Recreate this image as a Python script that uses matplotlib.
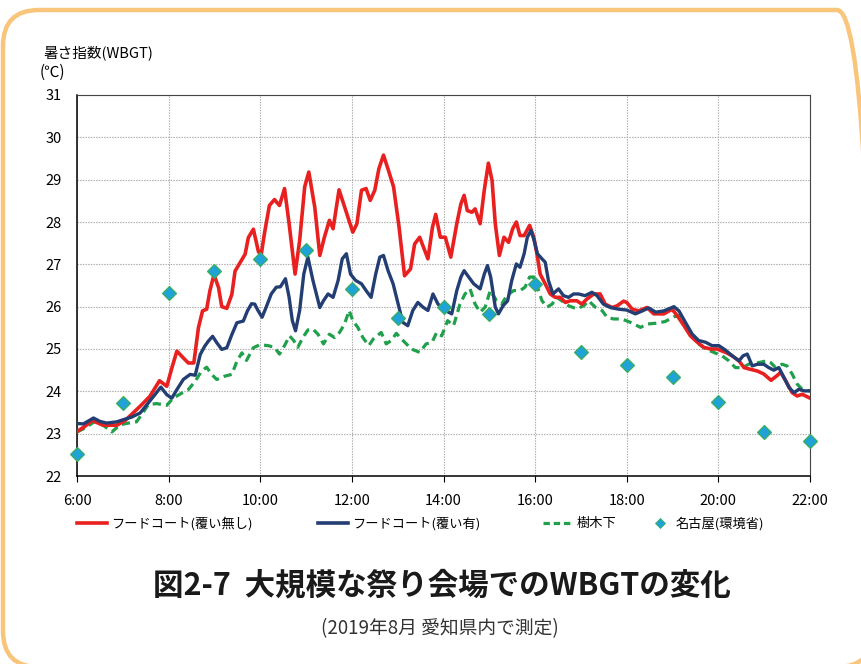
import matplotlib
matplotlib.use("Agg")
import matplotlib.pyplot as plt
from matplotlib.patches import FancyBboxPatch
from matplotlib.lines import Line2D

plt.rcParams['font.family'] = ['Noto Sans CJK JP', 'DejaVu Sans']

# hours (decimal) and WBGT values
red_t = [6.00, 6.17, 6.33, 6.57, 6.87, 7.05, 7.38, 7.59, 7.80, 7.96, 8.07, 8.18, 8.32, 8.43, 8.55,
         8.65, 8.74, 8.83, 8.90, 8.99, 9.09, 9.16, 9.27, 9.38, 9.45, 9.56, 9.67, 9.74, 9.85, 9.96,
         10.02, 10.09, 10.20, 10.31, 10.42, 10.53, 10.63, 10.76, 10.86, 10.97, 11.06, 11.19, 11.30,
         11.40, 11.51, 11.59, 11.72, 11.88, 12.02, 12.11, 12.21, 12.31, 12.40, 12.50, 12.59, 12.69,
         12.81, 12.91, 13.03, 13.15, 13.28, 13.37, 13.48, 13.66, 13.76, 13.83, 13.93, 14.04, 14.16,
         14.29, 14.38, 14.45, 14.52, 14.62, 14.69, 14.80, 14.89, 14.98, 15.06, 15.13, 15.22, 15.32,
         15.42, 15.51, 15.59, 15.67, 15.76, 15.88, 15.97, 16.04, 16.11, 16.22, 16.33, 16.44, 16.55,
         16.66, 16.77, 16.91, 17.02, 17.13, 17.28, 17.42, 17.53, 17.68, 17.79, 17.93, 18.00, 18.12,
         18.26, 18.44, 18.59, 18.81, 18.99, 19.10, 19.25, 19.39, 19.54, 19.68, 19.83, 19.97, 20.16,
         20.30, 20.45, 20.56, 20.70, 20.85, 20.99, 21.15, 21.28, 21.36, 21.47, 21.61, 21.72, 21.83,
         22.00]
red_v = [23.05, 23.17, 23.31, 23.20, 23.20, 23.31, 23.65, 23.88, 24.25, 24.12, 24.55, 24.95, 24.79,
         24.67, 24.67, 25.50, 25.90, 25.94, 26.37, 26.76, 26.45, 26.00, 25.96, 26.29, 26.84, 27.04,
         27.24, 27.63, 27.83, 27.30, 27.22, 27.72, 28.39, 28.53, 28.39, 28.79, 27.96, 26.77, 27.56,
         28.83, 29.18, 28.35, 27.21, 27.64, 28.04, 27.84, 28.76, 28.23, 27.76, 27.96, 28.75, 28.79,
         28.51, 28.75, 29.26, 29.58, 29.18, 28.83, 27.88, 26.73, 26.89, 27.48, 27.64, 27.13, 27.88,
         28.18, 27.64, 27.64, 27.17, 27.96, 28.43, 28.63, 28.27, 28.23, 28.31, 27.96, 28.75, 29.39,
         28.98, 27.96, 27.21, 27.64, 27.52, 27.84, 28.00, 27.68, 27.68, 27.92, 27.64, 27.25, 26.77,
         26.54, 26.30, 26.22, 26.22, 26.10, 26.14, 26.14, 26.06, 26.18, 26.30, 26.30, 26.06, 25.98,
         26.02, 26.13, 26.10, 25.94, 25.90, 25.98, 25.83, 25.83, 25.94, 25.79, 25.55, 25.31, 25.16,
         25.04, 25.00, 25.00, 24.92, 24.84, 24.72, 24.56, 24.52, 24.48, 24.41, 24.26, 24.37, 24.45,
         24.25, 23.97, 23.89, 23.93, 23.84]

blue_t = [6.00, 6.14, 6.36, 6.50, 6.65, 6.87, 7.01, 7.19, 7.38, 7.56, 7.70, 7.83, 7.96, 8.07, 8.18,
          8.32, 8.47, 8.58, 8.69, 8.79, 8.87, 8.96, 9.05, 9.16, 9.27, 9.38, 9.49, 9.63, 9.72, 9.81,
          9.88, 9.95, 10.04, 10.13, 10.24, 10.35, 10.44, 10.55, 10.63, 10.70, 10.77, 10.86, 10.95,
          11.04, 11.15, 11.30, 11.38, 11.48, 11.59, 11.70, 11.79, 11.88, 11.97, 12.08, 12.21, 12.31,
          12.42, 12.52, 12.61, 12.69, 12.79, 12.90, 13.01, 13.11, 13.22, 13.33, 13.44, 13.55, 13.66,
          13.77, 13.88, 14.04, 14.18, 14.29, 14.38, 14.45, 14.55, 14.66, 14.80, 14.89, 14.96, 15.03,
          15.13, 15.20, 15.30, 15.40, 15.49, 15.59, 15.67, 15.76, 15.83, 15.91, 15.98, 16.05, 16.15,
          16.22, 16.29, 16.39, 16.51, 16.62, 16.73, 16.84, 16.95, 17.09, 17.24, 17.35, 17.49, 17.64,
          17.83, 18.00, 18.19, 18.34, 18.48, 18.63, 18.81, 19.03, 19.14, 19.28, 19.43, 19.57, 19.72,
          19.86, 20.01, 20.16, 20.30, 20.45, 20.54, 20.63, 20.74, 20.85, 20.99, 21.10, 21.21, 21.32,
          21.43, 21.54, 21.65, 21.76, 21.87, 22.00]
blue_v = [23.24, 23.23, 23.37, 23.29, 23.25, 23.28, 23.33, 23.39, 23.49, 23.73, 23.92, 24.10, 23.92,
          23.84, 24.04, 24.28, 24.40, 24.38, 24.87, 25.07, 25.19, 25.30, 25.15, 24.99, 25.03, 25.34,
          25.62, 25.66, 25.90, 26.07, 26.06, 25.91, 25.75, 25.99, 26.30, 26.46, 26.47, 26.66, 26.22,
          25.67, 25.43, 25.91, 26.77, 27.17, 26.62, 25.98, 26.14, 26.30, 26.22, 26.62, 27.13, 27.25,
          26.77, 26.62, 26.54, 26.38, 26.22, 26.77, 27.17, 27.21, 26.85, 26.54, 26.06, 25.63, 25.55,
          25.91, 26.10, 25.99, 25.91, 26.30, 26.06, 25.91, 25.83, 26.38, 26.70, 26.85, 26.70, 26.54,
          26.42, 26.77, 26.97, 26.70, 25.99, 25.83, 26.02, 26.14, 26.62, 27.01, 26.93, 27.25, 27.64,
          27.80, 27.56, 27.25, 27.13, 27.05, 26.62, 26.30, 26.42, 26.26, 26.22, 26.30, 26.30, 26.26,
          26.34, 26.26, 26.06, 25.98, 25.94, 25.92, 25.83, 25.90, 25.97, 25.87, 25.90, 26.00, 25.90,
          25.63, 25.35, 25.20, 25.16, 25.08, 25.08, 24.97, 24.84, 24.72, 24.84, 24.88, 24.60, 24.64,
          24.64, 24.56, 24.50, 24.56, 24.33, 24.09, 23.97, 24.05, 24.01, 24.01]

green_t = [6.00, 6.17, 6.39, 6.57, 6.76, 6.94, 7.12, 7.30, 7.41, 7.56, 7.74, 7.96, 8.10, 8.29, 8.43,
           8.58, 8.72, 8.83, 8.94, 9.05, 9.23, 9.38, 9.49, 9.60, 9.70, 9.85, 9.99, 10.17, 10.31,
           10.42, 10.53, 10.64, 10.73, 10.82, 10.93, 11.04, 11.15, 11.26, 11.38, 11.51, 11.62, 11.73,
           11.84, 11.94, 12.02, 12.13, 12.24, 12.37, 12.47, 12.64, 12.75, 12.86, 12.97, 13.08, 13.19,
           13.30, 13.48, 13.62, 13.75, 13.85, 13.96, 14.09, 14.22, 14.36, 14.47, 14.58, 14.69, 14.80,
           14.91, 15.02, 15.16, 15.27, 15.38, 15.53, 15.67, 15.78, 15.88, 15.97, 16.05, 16.15, 16.26,
           16.37, 16.47, 16.58, 16.73, 16.91, 17.06, 17.17, 17.31, 17.46, 17.57, 17.71, 17.89, 18.08,
           18.30, 18.44, 18.66, 18.84, 19.03, 19.14, 19.28, 19.43, 19.57, 19.72, 19.90, 20.08, 20.23,
           20.37, 20.52, 20.70, 20.88, 21.06, 21.14, 21.25, 21.39, 21.50, 21.61, 21.72, 21.83, 22.00]
green_v = [23.04, 23.13, 23.29, 23.20, 23.04, 23.21, 23.25, 23.28, 23.45, 23.69, 23.71, 23.67, 23.84,
           23.96, 24.04, 24.24, 24.48, 24.57, 24.40, 24.28, 24.36, 24.40, 24.71, 24.91, 24.73, 25.03,
           25.10, 25.08, 25.04, 24.88, 25.08, 25.31, 25.20, 25.04, 25.27, 25.45, 25.47, 25.35, 25.12,
           25.35, 25.27, 25.39, 25.59, 25.91, 25.67, 25.51, 25.27, 25.08, 25.24, 25.39, 25.12, 25.20,
           25.37, 25.24, 25.12, 25.00, 24.92, 25.12, 25.16, 25.39, 25.31, 25.67, 25.55, 26.06, 26.30,
           26.42, 26.06, 25.87, 25.99, 26.38, 26.14, 26.06, 26.26, 26.38, 26.38, 26.46, 26.70, 26.70,
           26.46, 26.14, 25.99, 26.06, 26.22, 26.14, 26.02, 25.95, 26.02, 26.14, 25.99, 25.91, 25.75,
           25.71, 25.71, 25.63, 25.51, 25.59, 25.61, 25.65, 25.76, 25.79, 25.51, 25.31, 25.12, 25.00,
           24.92, 24.84, 24.72, 24.56, 24.56, 24.66, 24.68, 24.72, 24.68, 24.56, 24.64, 24.60, 24.41,
           24.17, 24.05, 24.01]

nagoya_t = [6, 7, 8, 9, 10, 11, 12, 13, 14, 15, 16, 17, 18, 19, 20, 21, 22]
nagoya_v = [22.52, 23.72, 26.32, 26.84, 27.13, 27.34, 26.42, 25.73, 26.00, 25.83, 26.53,
            24.93, 24.62, 24.34, 23.75, 23.04, 22.83]

labels = ['フードコート(覆い無し)', 'フードコート(覆い有)', '樹木下', '名古屋(環境省)']
x_ticks = [6, 8, 10, 12, 14, 16, 18, 20, 22]
y_ticks = list(range(22, 32))

RED = '#e8201f'
NAVY = '#233e73'
GREEN = '#21a04c'
CYAN = '#1fa3d6'

fig = plt.figure(figsize=(8.61, 6.64), dpi=100)
fig.patch.set_facecolor('white')

# rounded orange frame in inches; right and bottom edges run off the picture
frame = FancyBboxPatch((0.03, -0.03), 8.70, 6.57, boxstyle="round,pad=0,rounding_size=0.36",
                       transform=fig.dpi_scale_trans, fill=False, edgecolor='#f8c57a',
                       linewidth=3.2, clip_on=False)
fig.add_artist(frame)

ax = fig.add_axes([77 / 861, 1 - 476 / 664, 733 / 861, 381 / 664])

ax.plot(green_t, green_v, color=GREEN, lw=2.3, linestyle=(0, (2.6, 1.6)), zorder=3)
ax.plot(red_t, red_v, color=RED, lw=2.6, zorder=4, solid_joinstyle='round')
ax.plot(blue_t, blue_v, color=NAVY, lw=2.4, zorder=5, solid_joinstyle='round')
ax.plot(nagoya_t, nagoya_v, linestyle='none', marker='D', markersize=7.5,
        markerfacecolor=CYAN, markeredgecolor='#3aae5c', markeredgewidth=0.9,
        zorder=6, clip_on=False)

ax.set_xlim(6, 22)
ax.set_ylim(22, 31)
ax.set_xticks(x_ticks)
ax.set_xticklabels([f'{h}:00' for h in x_ticks])
ax.set_yticks(y_ticks)
ax.tick_params(axis='both', labelsize=10.5, direction='out', width=0.8, colors='black')
ax.tick_params(axis='y', length=0, pad=11)
ax.tick_params(axis='x', length=4, pad=9)
ax.grid(True, color='#a8a8a8', linestyle=(0, (1.2, 1.2)), linewidth=0.8)
ax.set_axisbelow(True)
for side in ['top', 'right']:
    ax.spines[side].set_color('#444444')
    ax.spines[side].set_linewidth(0.8)
for side in ['left', 'bottom']:
    ax.spines[side].set_color('black')
    ax.spines[side].set_linewidth(1.1)

fig.text(43 / 861, 1 - 53 / 664, '暑さ指数(WBGT)', fontsize=10.5, va='center', ha='left')
fig.text(40 / 861, 1 - 72 / 664, '(℃)', fontsize=11, va='center', ha='left')

# legend, one entry per slot as in the reference
handles = [
    Line2D([], [], color=RED, lw=2.6),
    Line2D([], [], color=NAVY, lw=2.6),
    Line2D([], [], color=GREEN, lw=2.3, linestyle=(0, (2.0, 1.2))),
    Line2D([], [], linestyle='none', marker='D', markersize=5.5,
           markerfacecolor=CYAN, markeredgecolor='#3aae5c', markeredgewidth=0.6),
]
slots = [77, 318, 543, 652]
hlens = [2.3, 2.3, 2.3, 1.2]
for h, lab, x0, hl in zip(handles, labels, slots, hlens):
    fig.legend(handles=[h], labels=[lab], loc='center left',
               bbox_to_anchor=(x0 / 861, 1 - 524 / 664), frameon=False,
               fontsize=9.5, handlelength=hl, handletextpad=0.25 if hl > 2 else 0.6,
               borderpad=0, borderaxespad=0)

fig.text(442 / 861, 1 - 585 / 664, '図2-7  大規模な祭り会場でのWBGTの変化',
         fontsize=22, fontweight='bold', ha='center', va='center', color='#1a1a1a')
fig.text(440 / 861, 1 - 629 / 664, '(2019年8月 愛知県内で測定)',
         fontsize=13.5, ha='center', va='center', color='#333333')

fig.savefig('out.png', dpi=100)
